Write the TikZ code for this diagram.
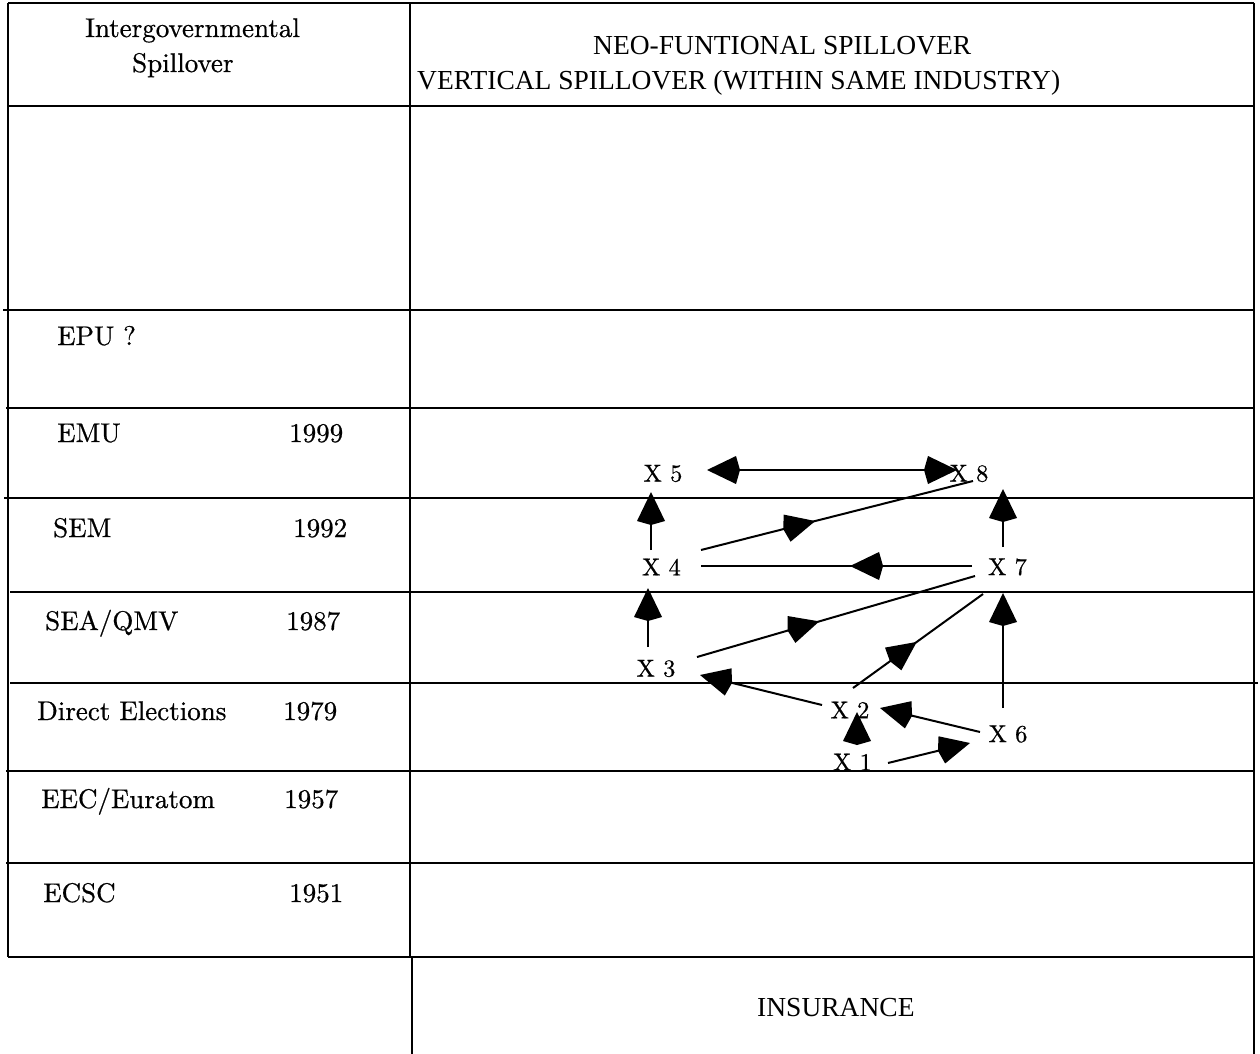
\documentclass[tikz,border=0pt]{standalone}
\usepackage{fontspec}
\newfontfamily\hdr{Liberation Serif}
\newfontfamily\lmten{lmroman10-regular.otf}[FakeBold=0.6]
\usetikzlibrary{arrows.meta,decorations.markings,calc}
\begin{document}
\begin{tikzpicture}[x=1pt,y=-1pt,
  grid/.style={line width=2.5pt},
  lbl/.style={anchor=base west, inner sep=0pt, font=\lmten\fontsize{27}{32}\selectfont},
  hd/.style={anchor=base west, inner sep=0pt, font=\hdr\fontsize{27.5}{32}\selectfont},
  xn/.style={inner sep=0pt, font=\lmten\fontsize{24.5}{28}\selectfont},
  conn/.style={line width=2pt},
  head/.tip={Kite[length=33pt,width=28pt,inset=4pt]},
  tipend/.style={conn, -head},
  dbl/.style={conn, head-head},
  mid/.style={conn, postaction={decorate}, decoration={markings, mark=at position #1 with {\arrow{head}}}}
]
\useasboundingbox (0,0) rectangle (1260,1054);
\fill[white] (0,0) rectangle (1260,1054);

% table grid
\draw[grid] (8,3) -- (1254,3);
\draw[grid] (8,3) -- (8,957);
\draw[grid] (410,3) -- (410,957);
\draw[grid] (412,957) -- (412,1054);
\draw[grid] (1254,3) -- (1254,1054);
\draw[grid] (8,106) -- (1254,106);
\draw[grid] (3,310) -- (1254,310);
\draw[grid] (6,408) -- (1254,408);
\draw[grid] (4,498) -- (1254,498);
\draw[grid] (10,592) -- (1254,592);
\draw[grid] (10,683) -- (1258,683);
\draw[grid] (6,771) -- (1254,771);
\draw[grid] (6,863) -- (1254,863);
\draw[grid] (8,957) -- (1254,957);

% headers
\node[lbl] (h1) at (85,37) {Intergovernmental};
\node[lbl] (h2) at (132,72) {Spillover};
\node[hd] (h3) at (593,55) {NEO-FUNTIONAL SPILLOVER};
\node[hd] (h4) at (417,90) {VERTICAL SPILLOVER (WITHIN SAME INDUSTRY)};

% left column
\node[lbl] (epu) at (57,345) {EPU ?};
\node[lbl] (emu) at (57,442) {EMU};
\node[lbl] (emuy) at (289,442) {1999};
\node[lbl] (sem) at (53,537) {SEM};
\node[lbl] (semy) at (293,537) {1992};
\node[lbl] (sea) at (45,630) {SEA/QMV};
\node[lbl] (seay) at (286,630) {1987};
\node[lbl] (de) at (37,720) {Direct Elections};
\node[lbl] (dey) at (283,720) {1979};
\node[lbl] (eec) at (41,808) {EEC/Euratom};
\node[lbl] (eecy) at (284,808) {1957};
\node[lbl] (ecsc) at (43,902) {ECSC};
\node[lbl] (ecscy) at (289,902) {1951};
\node[hd] (ins) at (757,1016) {INSURANCE};

% spillover nodes
\node[xn] (x5) at (663,473.5) {X 5};
\node[xn] (x8) at (969,473.5) {X 8};
\node[xn] (x4) at (661.5,567) {X 4};
\node[xn] (x7) at (1007.5,567) {X 7};
\node[xn] (x3) at (656,668.5) {X 3};
\node[xn] (x2) at (850,710) {X 2};
\node[xn] (x6) at (1008,734) {X 6};
\node[xn] (x1) at (852.5,762) {X 1};

% connectors
\draw[dbl] ($(x5)+(44,-3.5)$) -- ($(x8)+(-12,-3.5)$);
\draw[tipend] ($(x4)+(-10.5,-17)$) -- ($(x5)+(-12,18.5)$);
\draw[tipend] ($(x7)+(-4.5,-20)$) -- ($(x8)+(34,15.5)$);
\draw[mid=0.42] ($(x4)+(39.5,-17)$) -- ($(x8)+(4,7.5)$);
\draw[mid=0.45] ($(x7)+(-35.5,-1)$) -- ($(x4)+(39.5,-1)$);
\draw[tipend] ($(x3)+(-8,-21.5)$) -- ($(x4)+(-13.5,21)$);
\draw[mid=0.44] ($(x3)+(41,-11.5)$) -- ($(x7)+(-32.5,9)$);
\draw[mid=0.49] ($(x2)+(3,-22)$) -- ($(x7)+(-24.5,27)$);
\draw[tipend] ($(x2)+(-28,-5)$) -- ($(x3)+(44,6.5)$);
\draw[tipend] ($(x6)+(-5,-26)$) -- ($(x7)+(-4.5,26)$);
\draw[tipend] ($(x6)+(-28,-2)$) -- ($(x2)+(30,-2)$);
\draw[tipend] ($(x1)+(35.5,1)$) -- ($(x6)+(-38,9)$);
\draw[tipend] ($(x1)+(4.5,-17)$) -- ($(x2)+(7,2)$);
\end{tikzpicture}
\end{document}
